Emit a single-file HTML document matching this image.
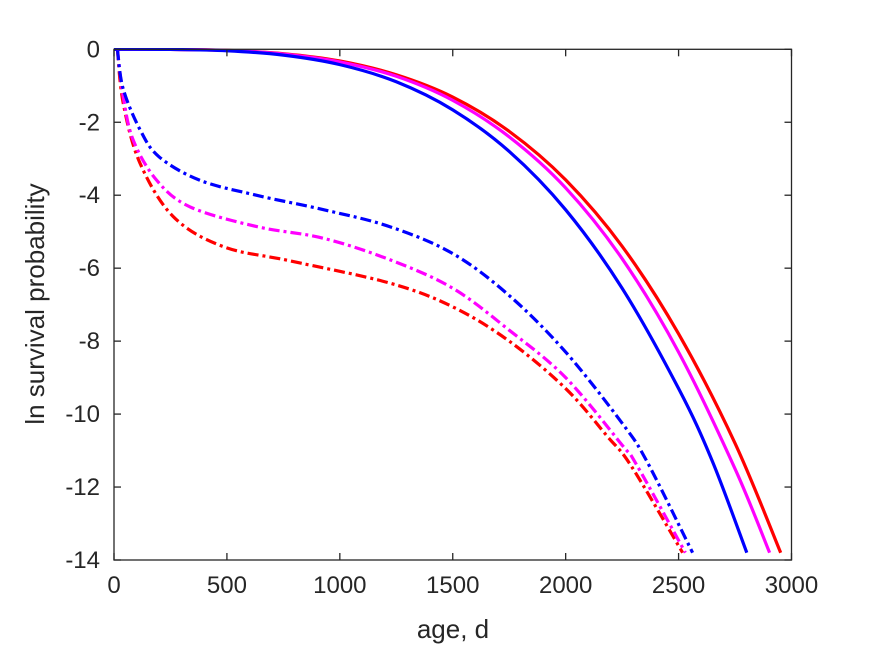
<!DOCTYPE html>
<html><head><meta charset="utf-8"><style>
body{margin:0;background:#fff;}
svg text{font-family:"Liberation Sans",sans-serif;fill:#262626;}
</style></head><body>
<svg id="chart" width="875" height="656" viewBox="0 0 875 656" xmlns="http://www.w3.org/2000/svg">
<rect width="875" height="656" fill="#fff"/>
<defs><clipPath id="plotclip"><rect x="114" y="48" width="678" height="513"/></clipPath></defs>
<g id="series" clip-path="url(#plotclip)"></g>
<g id="axes"></g>
<text x="453" y="638" font-size="26" text-anchor="middle">age, d</text>
<text transform="translate(44,304) rotate(-90)" font-size="26" text-anchor="middle">ln survival probability</text>
</svg>
<script>
const xTicks=[0,500,1000,1500,2000,2500,3000];
const yTicks=[0,-2,-4,-6,-8,-10,-12,-14];
const blueSolidX=[0,250,500,750,1000,1250,1500,1750,2000,2250,2500,2650,2802];
const blueSolidY=[0,-0.004,-0.04,-0.16,-0.42,-0.89,-1.66,-2.8,-4.4,-6.55,-9.3,-11.3,-13.8];
const magentaSolidX=[0,250,500,750,1000,1250,1500,1750,2000,2250,2500,2750,2903];
const magentaSolidY=[0,-0.003,-0.03,-0.13,-0.345,-0.74,-1.4,-2.4,-3.8,-5.74,-8.3,-11.5,-13.8];
const redSolidX=[0,250,500,750,1000,1250,1500,1750,2000,2250,2500,2750,2952];
const redSolidY=[0,-0.003,-0.03,-0.12,-0.32,-0.7,-1.31,-2.25,-3.58,-5.4,-7.8,-10.8,-13.8];
const blueDashX=[15,40,115,200,380,630,930,1220,1500,1750,2000,2250,2360,2562];
const blueDashY=[0,-1.07,-2.2,-2.95,-3.59,-4.0,-4.4,-4.86,-5.6,-6.75,-8.3,-10.25,-11.3,-13.8];
const magentaDashX=[15,41,85,189,337,632,927,1222,1500,1750,2000,2250,2315,2530];
const magentaDashY=[0,-1.3,-2.49,-3.59,-4.32,-4.86,-5.18,-5.77,-6.55,-7.7,-9.0,-10.85,-11.4,-13.8];
const redDashX=[15,41,115,263,484,780,1222,1500,1750,2000,2183,2292,2518];
const redDashY=[0,-1.48,-3.12,-4.59,-5.41,-5.8,-6.41,-7.06,-8.0,-9.3,-10.6,-11.44,-13.8];

const X0=114,X1=791.5,Y0=49.3,Y1=560;
const sx=v=>X0+(v-0)/(3000-0)*(X1-X0);
const sy=v=>Y0+(0-v)/(0-(-14))*(Y1-Y0);
const NS="http://www.w3.org/2000/svg";
function pathD(xs,ys){
  const p=xs.map((x,i)=>[sx(x),sy(ys[i])]);
  let d='M'+p[0][0].toFixed(2)+','+p[0][1].toFixed(2);
  for(let i=0;i<p.length-1;i++){
    const p0=p[Math.max(0,i-1)],p1=p[i],p2=p[i+1],p3=p[Math.min(p.length-1,i+2)];
    const c1=[p1[0]+(p2[0]-p0[0])/6,p1[1]+(p2[1]-p0[1])/6];
    const c2=[p2[0]-(p3[0]-p1[0])/6,p2[1]-(p3[1]-p1[1])/6];
    d+='C'+c1.map(v=>v.toFixed(2)).join(',')+' '+c2.map(v=>v.toFixed(2)).join(',')+' '+p2.map(v=>v.toFixed(2)).join(',');
  }
  return d;
}
const series=document.getElementById('series');
function draw(xs,ys,color,dash,name){
  const p=document.createElementNS(NS,'path');
  
  
  p.setAttribute('d',pathD(xs,ys));
  p.setAttribute('fill','none');p.setAttribute('stroke',color);p.setAttribute('stroke-width','3.2');
  if(dash)p.setAttribute('stroke-dasharray',dash);
  series.appendChild(p);
}
const DD='11 4 3 4';
draw(redDashX,redDashY,'#ff0000',DD,'red-dashdot-line');
draw(magentaDashX,magentaDashY,'#ff00ff',DD,'magenta-dashdot-line');
draw(blueDashX,blueDashY,'#0000ff',DD,'blue-dashdot-line');
draw(redSolidX,redSolidY,'#ff0000',null,'red-solid-line');
draw(magentaSolidX,magentaSolidY,'#ff00ff',null,'magenta-solid-line');
draw(blueSolidX,blueSolidY,'#0000ff',null,'blue-solid-line');

const axes=document.getElementById('axes');
const box=document.createElementNS(NS,'rect');


box.setAttribute('x',X0);box.setAttribute('y',Y0);box.setAttribute('width',X1-X0);box.setAttribute('height',Y1-Y0);
box.setAttribute('fill','none');box.setAttribute('stroke','#262626');box.setAttribute('stroke-width','1.3');
axes.appendChild(box);
function line(x1,y1,x2,y2,name){const l=document.createElementNS(NS,'line');
  
  
  l.setAttribute('x1',x1);l.setAttribute('y1',y1);l.setAttribute('x2',x2);l.setAttribute('y2',y2);
  l.setAttribute('stroke','#262626');l.setAttribute('stroke-width','1.3');axes.appendChild(l);}
function text(x,y,s,anchor,name){const t=document.createElementNS(NS,'text');
  
  
  t.setAttribute('x',x);t.setAttribute('y',y);t.setAttribute('font-size','24');t.setAttribute('text-anchor',anchor);
  t.textContent=s;axes.appendChild(t);}
xTicks.forEach(v=>{const x=sx(v);line(x,Y1,x,Y1-7,'x-tick');line(x,Y0,x,Y0+7,'x-tick-top');text(x,Y1+33,String(v),'middle','x-tick-label');});
yTicks.forEach(v=>{const y=sy(v);line(X0,y,X0+7,y,'y-tick');line(X1,y,X1-7,y,'y-tick-right');text(X0-14,y+8,String(v),'end','y-tick-label');});
</script>
</body></html>
